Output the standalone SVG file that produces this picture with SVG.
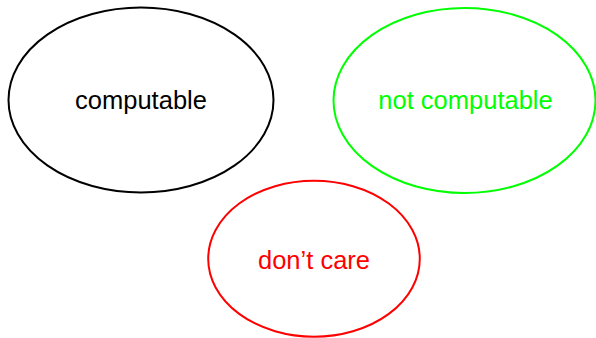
<svg xmlns="http://www.w3.org/2000/svg" width="596" height="338" viewBox="0 0 596 338">
<style>
.n ellipse { fill: none; stroke-width: 2; }
.n text { font-family: "Liberation Sans", Arial, sans-serif; font-size: 25.5px; text-anchor: middle; }
</style>
<rect width="596" height="338" fill="#ffffff"/>
<g id="computable" class="n">
<ellipse cx="141" cy="100" rx="132.5" ry="92.5" stroke="#000000"/>
<text x="141" y="108.5" fill="#000000">computable</text>
</g>
<g id="not-computable" class="n">
<ellipse cx="464.5" cy="100.5" rx="131" ry="92.5" stroke="#00ff00"/>
<text x="465.5" y="108.5" fill="#00ff00">not computable</text>
</g>
<g id="dont-care" class="n">
<ellipse cx="314" cy="258.7" rx="105.8" ry="78" stroke="#ff0000"/>
<text x="314" y="269" fill="#ff0000">don’t care</text>
</g>
<g id="connectors"></g>
</svg>
